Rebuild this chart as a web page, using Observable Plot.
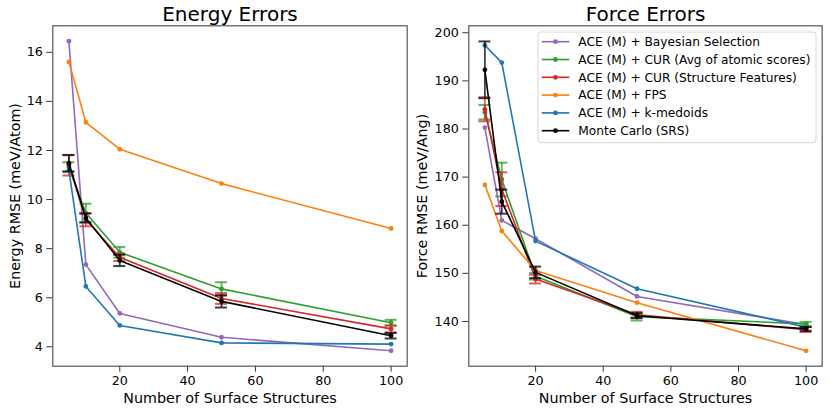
<!DOCTYPE html>
<html><head><meta charset="utf-8">
<script src="https://cdn.jsdelivr.net/npm/d3@7"></script>
<script src="https://cdn.jsdelivr.net/npm/@observablehq/plot@0.6"></script>
<style>
body{margin:0;background:#fff;}
#wrap{position:relative;width:830px;height:415px;font-family:"DejaVu Sans",sans-serif;}
#wrap > svg{position:absolute;top:0;}
</style></head><body>
<div id="wrap"></div>
<script>
const sizes = [5, 10, 20, 50, 100];
const methods = ["ACE (M) + Bayesian Selection", "ACE (M) + CUR (Avg of atomic scores)", "ACE (M) + CUR (Structure Features)", "ACE (M) + FPS", "ACE (M) + k-medoids", "Monte Carlo (SRS)"];
const methodColors = ["#9467bd", "#2ca02c", "#d62728", "#ff7f0e", "#1f77b4", "#000000"];
const xTicks = [20, 40, 60, 80, 100];

// Energy RMSE (meV/Atom)
const energyBayesian = [16.45, 7.35, 5.36, 4.39, 3.84];
const energyCurAvg = [11.32, 9.45, 7.85, 6.36, 4.98];
const energyCurAvgErr = [0.2, 0.38, 0.22, 0.27, 0.12];
const energyCurStruct = [11.40, 9.18, 7.65, 5.97, 4.73];
const energyCurStructErr = [0.42, 0.27, 0.15, 0.22, 0.14];
const energyFps = [15.61, 13.15, 12.05, 10.65, 8.82];
const energyKmedoids = [11.2, 6.46, 4.87, 4.16, 4.11];
const energyMc = [11.48, 9.25, 7.52, 5.85, 4.45];
const energyMcErr = [0.33, 0.18, 0.23, 0.25, 0.11];
const energyTicks = [4, 6, 8, 10, 12, 14, 16];

// Force RMSE (meV/Ang)
const forceBayesian = [180.3, 161.0, 157.2, 145.2, 139.35];
const forceCurAvg = [183.5, 169.5, 149.4, 141.0, 139.5];
const forceCurAvgErr = [1.5, 3.5, 0.7, 0.8, 0.4];
const forceCurStruct = [184.1, 167.5, 148.8, 141.4, 138.3];
const forceCurStructErr = [2.5, 3.5, 0.9, 0.6, 0.5];
const forceFps = [168.4, 158.8, 150.6, 143.9, 133.9];
const forceKmedoids = [197.4, 193.8, 156.7, 146.8, 138.8];
const forceMc = [192.3, 164.9, 150.2, 141.2, 138.45];
const forceMcErr = [5.9, 2.5, 1.2, 0.5, 0.4];
const forceTicks = [140, 150, 160, 170, 180, 190, 200];

function buildRows(valuesList, errList) {
  return valuesList.map((vals, i) => vals.map((v, j) => ({
    series: methods[i], x: sizes[j], y: v, err: errList[i] ? errList[i][j] : null
  })));
}
const energyRows = buildRows(
  [energyBayesian, energyCurAvg, energyCurStruct, energyFps, energyKmedoids, energyMc],
  [null, energyCurAvgErr, energyCurStructErr, null, null, energyMcErr]);
const forceRows = buildRows(
  [forceBayesian, forceCurAvg, forceCurStruct, forceFps, forceKmedoids, forceMc],
  [null, forceCurAvgErr, forceCurStructErr, null, null, forceMcErr]);

function panel({rows, yDomain, yTicks, yLabel, title, mLeft, labelDx}) {
  const marks = [];
  rows.forEach(sr => {
    marks.push(Plot.line(sr, {x: "x", y: "y", stroke: "series", strokeWidth: 1.6}));
    const er = sr.filter(d => d.err != null);
    if (er.length) {
      marks.push(Plot.ruleX(er, {x: "x", y1: d => d.y - d.err, y2: d => d.y + d.err, stroke: "series", strokeWidth: 1.8, strokeOpacity: 0.75}));
      marks.push(Plot.ruleY(er, {y: d => d.y - d.err, x1: "x", x2: "x", insetLeft: -6, insetRight: -6, stroke: "series", strokeWidth: 2, strokeOpacity: 0.75}));
      marks.push(Plot.ruleY(er, {y: d => d.y + d.err, x1: "x", x2: "x", insetLeft: -6, insetRight: -6, stroke: "series", strokeWidth: 2, strokeOpacity: 0.75}));
    }
    marks.push(Plot.dot(sr, {x: "x", y: "y", fill: "series", r: 2.4}));
  });
  return Plot.plot({
    width: 415, height: 415,
    marginLeft: mLeft, marginRight: 8.3, marginTop: 25.3, marginBottom: 49.3,
    style: {fontFamily: "DejaVu Sans", fontSize: "12.7px", color: "#000", background: "transparent", overflow: "visible"},
    x: {domain: [0.25, 104.75]},
    y: {domain: yDomain},
    color: {domain: methods, range: methodColors},
    marks: [
      Plot.axisX({ticks: xTicks, label: null, tickSize: 6, tickPadding: 4, stroke: "#333"}),
      Plot.axisY({ticks: yTicks, label: null, tickSize: 6, tickPadding: 4, stroke: "#333"}),
      ...marks,
      Plot.frame({stroke: "#555", strokeWidth: 1.2}),
      Plot.text([title], {text: d => d, frameAnchor: "top", dy: -11, fontSize: 20, lineAnchor: "middle"}),
      Plot.text(["Number of Surface Structures"], {text: d => d, frameAnchor: "bottom", dy: 32.3, fontSize: 14.3, lineAnchor: "middle"}),
      Plot.text([yLabel], {text: d => d, frameAnchor: "left", dx: labelDx, rotate: -90, textAnchor: "middle", lineAnchor: "middle", fontSize: 14.3})
    ]
  });
}

const wrap = document.getElementById("wrap");
const left = panel({rows: energyRows, yDomain: [3.21, 17.08], yTicks: energyTicks, yLabel: "Energy RMSE (meV/Atom)", title: "Energy Errors", mLeft: 52.3, labelDx: -37.3});
left.style.left = "0px";
wrap.appendChild(left);
const right = panel({rows: forceRows, yDomain: [130.7, 201.45], yTicks: forceTicks, yLabel: "Force RMSE (meV/Ang)", title: "Force Errors", mLeft: 53.3, labelDx: -46.6});
right.style.left = "415px";
wrap.appendChild(right);

// legend
const lg = d3.select(wrap).append("svg")
  .attr("width", 830).attr("height", 415)
  .style("position", "absolute").style("left", "0px").style("top", "0px")
  .style("font-family", "DejaVu Sans");
lg.append("rect").attr("x", 538).attr("y", 32).attr("width", 278).attr("height", 110.7)
  .attr("rx", 3).attr("fill", "rgba(255,255,255,0.8)").attr("stroke", "#d6d6d6");
methods.forEach((m, i) => {
  const y = 41.7 + i * 17.8;
  lg.append("line").attr("x1", 541.7).attr("x2", 569.3).attr("y1", y).attr("y2", y)
    .attr("stroke", methodColors[i]).attr("stroke-width", 1.6);
  lg.append("circle").attr("cx", 555.5).attr("cy", y).attr("r", 2.4).attr("fill", methodColors[i]);
  lg.append("text").attr("x", 578.3).attr("y", y).attr("dy", "0.35em")
    .attr("font-size", 12.2).attr("fill", "#000").text(m);
});
</script>
</body></html>
